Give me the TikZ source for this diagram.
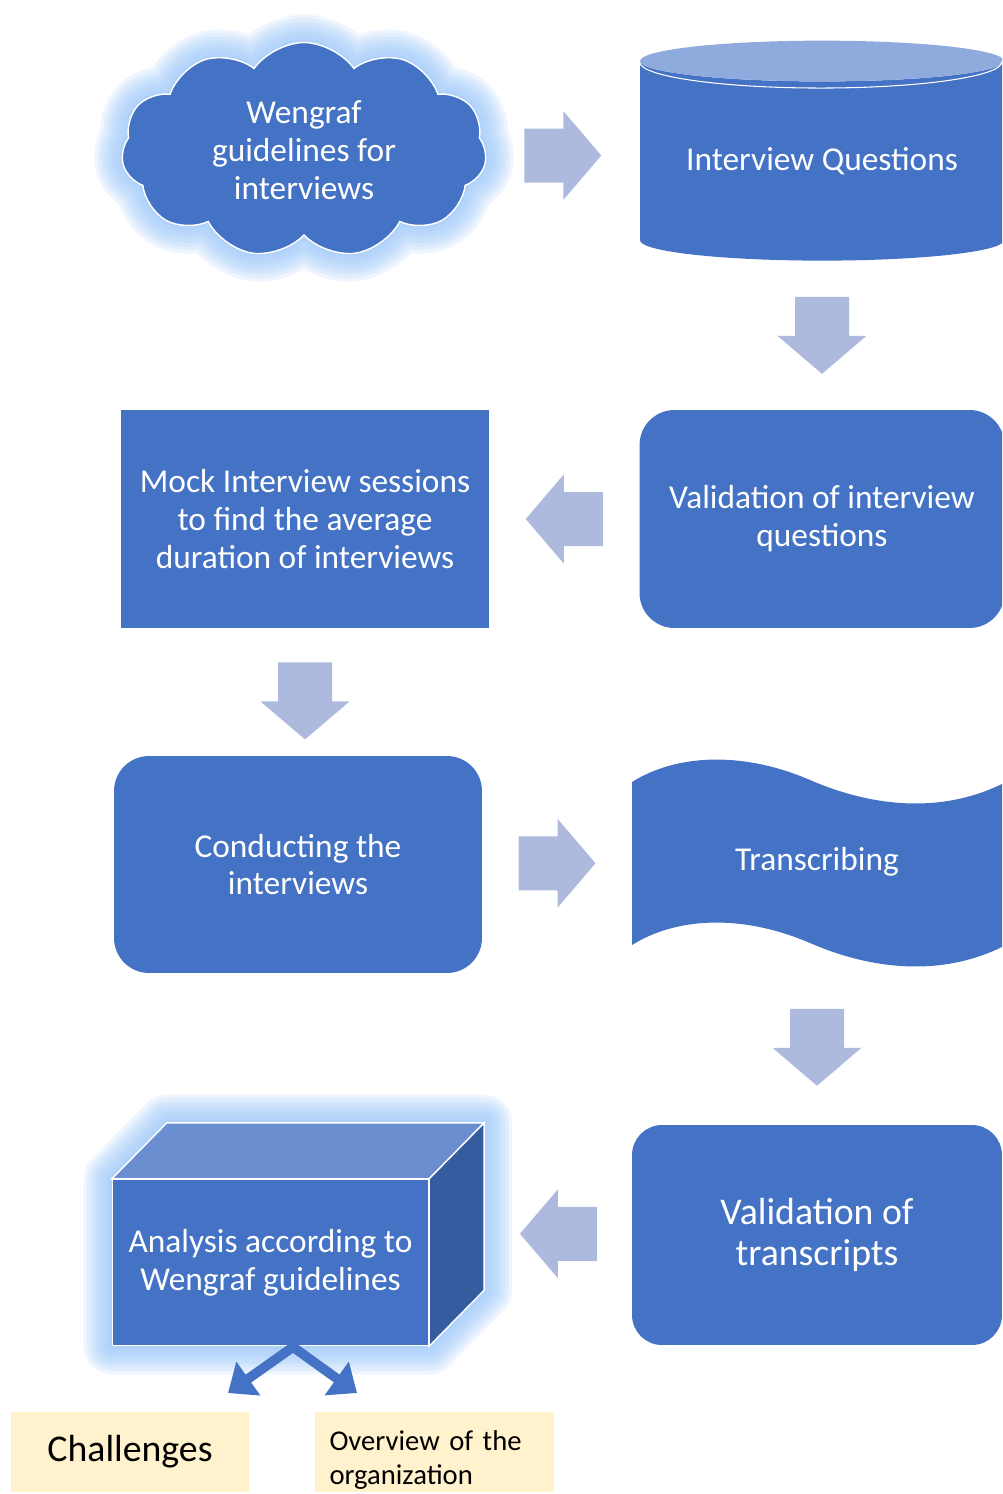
\documentclass[tikz,border=0pt]{standalone}
\usepackage{fontspec}
\setmainfont{Carlito}
\usetikzlibrary{arrows.meta,backgrounds,calc,positioning,shapes.geometric,shapes.symbols}
\definecolor{boxblue}{RGB}{68,114,196}
\definecolor{arrowgray}{RGB}{174,186,221}
\definecolor{glowblue}{RGB}{150,195,248}
\definecolor{toplight}{RGB}{143,170,220}
\definecolor{cubetop}{RGB}{106,142,208}
\definecolor{cubeside}{RGB}{54,92,160}
\definecolor{notefill}{RGB}{255,242,204}
\tikzset{%
	stepbox/.style  = {fill=boxblue, text=white, align=center, font={\fontsize{19}{21.6}\selectfont}, inner sep=0pt},
	roundbox/.style = {stepbox, rounded corners=0.7cm},
	glowring/.style = {preaction={draw=glowblue, line width=#1, opacity=.16, line join=round}},
	glow/.style     = {glowring=32pt, glowring=28pt, glowring=24pt, glowring=20pt, glowring=16pt, glowring=12pt, glowring=8pt, glowring=4pt},
	notebox/.style  = {fill=notefill, minimum width=4.77cm, minimum height=1.6cm, inner sep=0pt},
	forkline/.style = {draw=boxblue, line width=5.5pt, line join=miter, {Triangle[length=0.5cm,width=0.8cm]}-{Triangle[length=0.5cm,width=0.8cm]}},
	bigarrow/.pic   = {\fill[arrowgray] (-38.5,-27) -- (0.5,-27) -- (0.5,-44.5) -- (38.5,0) -- (0.5,44.5) -- (0.5,27) -- (-38.5,27) -- cycle;},
}
\begin{document}
\begin{tikzpicture}[x=0.02cm,y=-0.02cm]
	\useasboundingbox (0,0) rectangle (1002,1494);
	\clip (0,0) rectangle (1002,1494);
	% top row
	\node[stepbox, glow, cloud, cloud puffs=11, cloud puff arc=110, aspect=1.65, draw=white, line width=0.8pt, minimum width=7.3cm, minimum height=4.3cm] (wengraf) at (304,150) {Wengraf\\guidelines for\\interviews};
	\node[stepbox, fill=none, cylinder, shape border rotate=90, aspect=0.15, cylinder uses custom fill, cylinder body fill=boxblue, cylinder end fill=toplight, minimum width=7.28cm, minimum height=4.4cm] (quest) at (822,161) {Interview Questions};
	\draw[white, line width=0.6pt] ($(quest.before top)+(0,1)$) arc[start angle=180, end angle=360, x radius=181, y radius=-26];
	% second row
	\node[roundbox, minimum width=7.3cm, minimum height=4.36cm] (valq) at (822,519) {Validation of interview\\questions};
	\node[stepbox, minimum width=7.36cm, minimum height=4.36cm] (mock) at (305,519) {Mock Interview sessions\\to find the average\\duration of interviews};
	% third row
	\node[roundbox, minimum width=7.36cm, minimum height=4.34cm] (conduct) at (298,864.5) {Conducting the\\interviews};
	\fill[boxblue] (632,782) .. controls (675,755) and (740,750) .. (810,780) .. controls (870,806) and (940,815) .. (1004,783)
		-- (1004,946) .. controls (940,978) and (870,969) .. (810,943) .. controls (740,913) and (675,918) .. (632,945) -- cycle;
	\node[stepbox, fill=none, minimum width=7.4cm, minimum height=4.3cm] (transc) at (817,862) {Transcribing};
	% bottom row
	\node[roundbox, rounded corners=0.6cm, font={\fontsize{21.5}{23.3}\selectfont}, minimum width=7.4cm, minimum height=4.4cm] (valt) at (817,1235) {Validation of\\transcripts};
	\node[stepbox, draw=white, line width=0.8pt, minimum width=6.32cm, minimum height=3.32cm] (analysis) at (270.5,1262.5) {Analysis according to\\Wengraf guidelines};
	\draw[white, line width=0.8pt, fill=cubetop] (analysis.north west) -- ++(55,-56) -- ($(analysis.north east)+(55,-56)$) -- (analysis.north east) -- cycle;
	\draw[white, line width=0.8pt, fill=cubeside] (analysis.north east) -- ++(55,-56) -- ($(analysis.south east)+(55,-56)$) -- (analysis.south east) -- cycle;
	\begin{scope}[on background layer]
		\path[glow] (analysis.south west) -- (analysis.north west) -- ++(55,-56) -- ($(analysis.north east)+(55,-56)$) -- ($(analysis.south east)+(55,-56)$) -- (analysis.south east) -- cycle;
	\end{scope}
	% block arrows
	\pic at ($(wengraf.east)!.5!(quest.west)$) {bigarrow};
	\pic[rotate=-90] at ($(quest.south)!.5!(valq.north)$) {bigarrow};
	\pic[rotate=180] at ($(valq.west)!.5!(mock.east)$) {bigarrow};
	\pic[rotate=-90] at ($(mock.south)!.57!(conduct.north)+(4,0)$) {bigarrow};
	\pic at ($(conduct.east)!.5!(transc.west)$) {bigarrow};
	\pic[rotate=-90] at ($(transc.south)!.5!(valt.north)$) {bigarrow};
	\pic[rotate=180] at ($(valt.west)!.5!(analysis.east)+(28,-15)$) {bigarrow};
	% outcomes
	\node[notebox, font={\fontsize{21.5}{24}\selectfont}] (chal) at (130,1452) {Challenges};
	\node[notebox, font={\fontsize{16.3}{19.3}\selectfont}, align=left, text width=4.2cm] (overview) at (434.5,1452) {\rule{0pt}{20pt}Overview of the\\organization};
	\coordinate (fork) at (293,1347);
	\coordinate (tipL) at (228,1393);
	\coordinate (tipR) at (357,1393);
	\draw[forkline] (tipL) -- (fork) -- (tipR);
\end{tikzpicture}
\end{document}
